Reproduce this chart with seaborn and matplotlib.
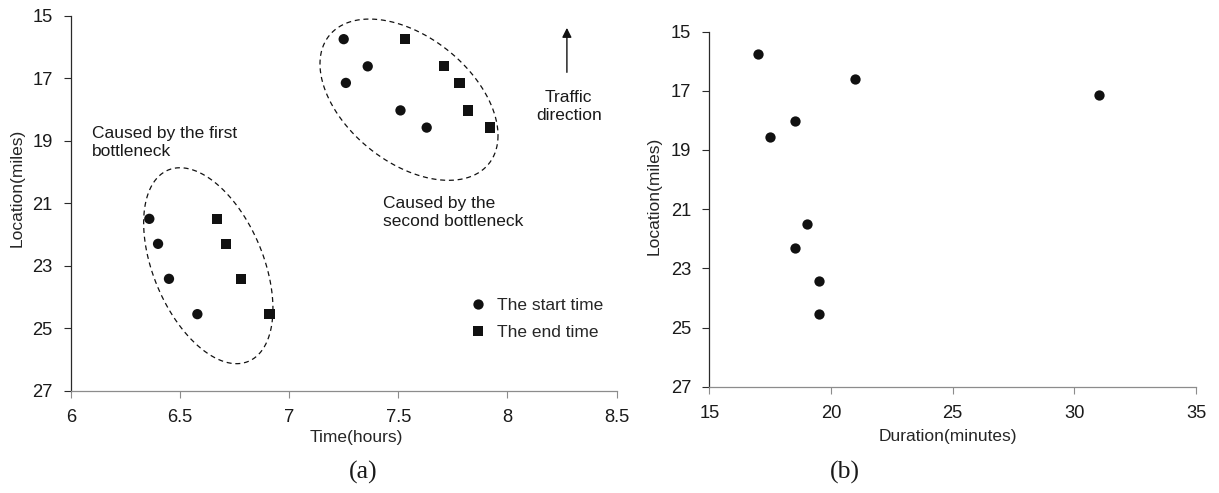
import numpy as np
import pandas as pd
import matplotlib
matplotlib.use("Agg")
import matplotlib.pyplot as plt
import seaborn as sns

# values
location = [15.75, 16.62, 17.15, 18.03, 18.58, 21.50, 22.30, 23.42, 24.55]
start_time = [7.25, 7.36, 7.26, 7.51, 7.63, 6.36, 6.40, 6.45, 6.58]
end_time = [7.53, 7.71, 7.78, 7.82, 7.92, 6.67, 6.71, 6.78, 6.91]
duration = [17.0, 21.0, 31.0, 18.5, 17.5, 19.0, 18.5, 19.5, 19.5]
event_labels = ["The start time", "The end time"]

time_ticks = [6, 6.5, 7, 7.5, 8, 8.5]
dur_ticks = [15, 20, 25, 30, 35]
loc_ticks = [15, 17, 19, 21, 23, 25, 27]

INK = "#111111"
AXIS_DARK = "#2a2a2a"
AXIS_GREY = "#8c8c8c"
FS = 12.5
TICK_FS = 13.2

sns.set_theme(style="ticks")
plt.rcParams["font.family"] = ["Liberation Sans", "DejaVu Sans"]


def style_axes(ax):
    sns.despine(ax=ax)
    ax.spines["left"].set_color(AXIS_DARK)
    ax.spines["left"].set_linewidth(0.9)
    ax.spines["bottom"].set_color(AXIS_GREY)
    ax.spines["bottom"].set_linewidth(0.9)
    ax.tick_params(axis="y", direction="out", length=5, width=0.8, color=AXIS_DARK,
                   pad=8, labelsize=TICK_FS, labelcolor="#1a1a1a")
    ax.tick_params(axis="x", direction="out", length=5, width=0.8, color=AXIS_GREY,
                   pad=8, labelsize=TICK_FS, labelcolor="#1a1a1a")
    ax.set_ylim(27, 15)
    ax.set_yticks(loc_ticks)


def dashed_ellipse(ax, centre, u, v):
    t = np.linspace(0, 2 * np.pi, 240)
    xs = centre[0] + u[0] * np.cos(t) + v[0] * np.sin(t)
    ys = centre[1] + u[1] * np.cos(t) + v[1] * np.sin(t)
    ax.plot(xs, ys, color=INK, lw=0.9, ls=(0, (4, 3)))


fig = plt.figure(figsize=(12.19, 4.93), dpi=100)
ax1 = fig.add_axes([0.0580, 0.2075, 0.4479, 0.7606])
ax2 = fig.add_axes([0.5819, 0.2156, 0.3993, 0.7205])

# (a) start / end time of each congestion
df_a = pd.DataFrame({
    "Time": start_time + end_time,
    "Location": location * 2,
    "event": [event_labels[0]] * len(start_time) + [event_labels[1]] * len(end_time),
})
sns.scatterplot(data=df_a, x="Time", y="Location", style="event",
                markers={event_labels[0]: "o", event_labels[1]: "s"},
                color=INK, s=55, linewidth=0, ax=ax1)
style_axes(ax1)
ax1.set_xlim(6, 8.5)
ax1.set_xticks(time_ticks)
ax1.set_xticklabels(["6", "6.5", "7", "7.5", "8", "8.5"])
ax1.set_xlabel("Time(hours)", fontsize=FS)
ax1.set_ylabel("Location(miles)", fontsize=FS)
ax1.xaxis.set_label_coords(0.5225, -0.105)
ax1.yaxis.set_label_coords(-0.0837, 0.5405)

old = ax1.get_legend()
handles = old.legend_handles
labels = [t.get_text() for t in old.get_texts()]
old.remove()
ax1.legend(handles, labels, frameon=False, loc="center left",
           bbox_to_anchor=(0.730, 0.1915), borderpad=0, borderaxespad=0,
           handlelength=1.0, handletextpad=0.6, labelspacing=0.67, fontsize=FS)

dashed_ellipse(ax1, (6.630, 23.0), (0.296, 1.371), (0.0, 2.82))
dashed_ellipse(ax1, (7.549, 17.687), (0.4076, 1.146), (0.0, 2.312))

ax1.text(6.098, 19.05, "Caused by the first\nbottleneck", ha="left", va="center",
         fontsize=FS, color="#1a1a1a", linespacing=1.25)
ax1.text(7.428, 21.3, "Caused by the\nsecond bottleneck", ha="left", va="center",
         fontsize=FS, color="#1a1a1a", linespacing=1.25)
ax1.text(8.28, 17.9, "Traffic\ndirection", ha="center", va="center",
         fontsize=FS, color="#1a1a1a", linespacing=1.25)
ax1.annotate("", xy=(8.272, 15.3), xytext=(8.272, 16.9),
             arrowprops=dict(arrowstyle="-|>", color=INK, lw=1.0, mutation_scale=14))

# (b) duration of each congestion
df_b = pd.DataFrame({"Duration": duration, "Location": location})
sns.scatterplot(data=df_b, x="Duration", y="Location", color=INK, s=55,
                linewidth=0, ax=ax2)
style_axes(ax2)
ax2.set_xlim(15, 35)
ax2.set_xticks(dur_ticks)
ax2.set_xlabel("Duration(minutes)", fontsize=FS)
ax2.set_ylabel("Location(miles)", fontsize=FS)
ax2.xaxis.set_label_coords(0.4904, -0.119)
ax2.yaxis.set_label_coords(-0.097, 0.537)

fig.text(363 / 1219, 1 - 472 / 493, "(a)", ha="center", va="center",
         fontsize=18.5, family=["Liberation Serif", "DejaVu Serif"], color="#1a1a1a")
fig.text(845 / 1219, 1 - 472 / 493, "(b)", ha="center", va="center",
         fontsize=18.5, family=["Liberation Serif", "DejaVu Serif"], color="#1a1a1a")

fig.savefig("out.png", dpi=100, facecolor="white")
